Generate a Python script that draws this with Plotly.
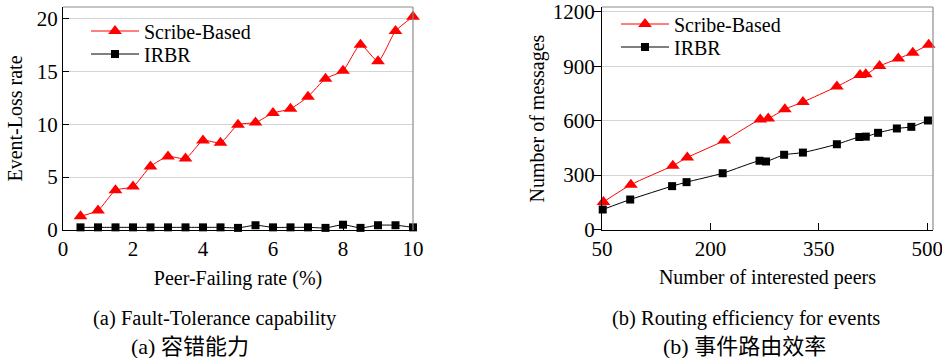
import plotly.graph_objects as go

# ---- Data: (a) Fault-Tolerance capability ----
fail_rate = [0.5, 1.0, 1.5, 2.0, 2.5, 3.0, 3.5, 4.0, 4.5, 5.0,
             5.5, 6.0, 6.5, 7.0, 7.5, 8.0, 8.5, 9.0, 9.5, 10.0]
scribe_loss = [1.3, 1.85, 3.75, 4.1, 6.0, 6.95, 6.75, 8.45, 8.25, 9.95,
               10.15, 11.05, 11.45, 12.6, 14.3, 15.05, 17.5, 15.95, 18.8, 20.15]
irbr_loss = [0.25, 0.25, 0.25, 0.25, 0.25, 0.25, 0.25, 0.25, 0.25, 0.2,
             0.45, 0.25, 0.25, 0.25, 0.2, 0.5, 0.2, 0.45, 0.45, 0.25]

# ---- Data: (b) Routing efficiency for events ----
peers_scribe = [52, 90, 148, 168, 219, 269, 280, 303, 328, 375, 407, 415, 434, 460, 480, 502]
msgs_scribe = [152, 247, 352, 397, 490, 607, 612, 663, 703, 788, 852, 856, 901, 943, 975, 1019]
peers_irbr = [51, 89, 147, 167, 217, 268, 277, 302, 328, 375, 406, 415, 432, 458, 478, 501]
msgs_irbr = [110, 165, 239, 261, 310, 379, 375, 412, 424, 470, 510, 512, 533, 557, 566, 601]

left_xticks = [0, 2, 4, 6, 8, 10]
left_yticks = [0, 5, 10, 15, 20]
right_xticks = [50, 200, 350, 500]
right_yticks = [0, 300, 600, 900, 1200]

series_names = ["Scribe-Based", "IRBR"]
captions_en = ["(a) Fault-Tolerance capability", "(b) Routing efficiency for events"]
captions_zh = ["(a) 容错能力", "(b) 事件路由效率"]

W, H = 942, 358
SERIF = "Liberation Serif"
FONT = dict(family=SERIF, size=20, color="black")
TICKFONT = dict(family=SERIF, size=21, color="black")

fig = go.Figure()
red = "#ff0000"

def add_pair(xs_a, ys_a, xs_b, ys_b, xa, ya, lg_a, lg_b):
    fig.add_trace(go.Scatter(
        x=xs_a, y=ys_a, name=series_names[0], mode="lines+markers",
        line=dict(color=red, width=1, shape="spline", smoothing=0.6),
        marker=dict(symbol="triangle-up", size=12, color=red),
        xaxis=xa, yaxis=ya, legend=lg_a, cliponaxis=False))
    fig.add_trace(go.Scatter(
        x=xs_b, y=ys_b, name=series_names[1], mode="lines+markers",
        line=dict(color="black", width=1, shape="spline", smoothing=0.6),
        marker=dict(symbol="square", size=8, color="black"),
        xaxis=xa, yaxis=ya, legend=lg_b, cliponaxis=False))

add_pair(fail_rate, scribe_loss, fail_rate, irbr_loss, "x", "y", "legend", "legend2")
add_pair(peers_scribe, msgs_scribe, peers_irbr, msgs_irbr, "x2", "y2", "legend3", "legend4")

L_x0, L_x1 = 63, 413
R_x0, R_x1 = 602, 933
Y_top, Y_bot = 7, 230

def dx(p):
    return p / W

def dy(p):
    return 1 - p / H

axis_common = dict(showline=True, linecolor="black", linewidth=1, zeroline=False,
                   tickfont=TICKFONT, title_font=FONT, tickcolor="black",
                   automargin=False, ticklabeloverflow="allow")

def legend_at(px, py):
    return dict(x=dx(px), y=dy(py), xanchor="left", yanchor="middle",
                bgcolor="rgba(0,0,0,0)", borderwidth=0, font=FONT,
                itemwidth=48, tracegroupgap=0)

fig.update_layout(
    width=W, height=H, margin=dict(l=0, r=0, t=0, b=0, autoexpand=False),
    paper_bgcolor="white", plot_bgcolor="white",
    font=FONT,
    xaxis=dict(domain=[dx(L_x0), dx(L_x1)], range=[0, 10], anchor="y",
               tickvals=left_xticks, ticks="inside", ticklen=6, showgrid=False,
               title=dict(text="Peer-Failing rate (%)", standoff=10),
               ticklabelstandoff=0, **axis_common),
    yaxis=dict(domain=[dy(Y_bot), dy(Y_top)], range=[0, 21.07], anchor="x",
               tickvals=left_yticks, ticks="inside", ticklen=6,
               showgrid=True, gridcolor="#d4d4d4", gridwidth=1,
               title=dict(text="Event-Loss rate", standoff=8), **axis_common),
    xaxis2=dict(domain=[dx(R_x0), dx(R_x1)], range=[50, 508], anchor="y2",
                tickvals=right_xticks, ticks="inside", ticklen=7, showgrid=False,
                title=dict(text="Number of interested peers", standoff=9),
                ticklabelstandoff=0, **axis_common),
    yaxis2=dict(domain=[dy(Y_bot), dy(Y_top)], range=[-3, 1227], anchor="x2",
                tickvals=right_yticks, ticks="outside", ticklen=8,
                showgrid=True, gridcolor="#d4d4d4", gridwidth=1,
                ticklabelstandoff=-6,
                title=dict(text="Number of messages", standoff=2), **axis_common),
    legend=legend_at(86, 31),
    legend2=legend_at(86, 54),
    legend3=legend_at(616, 24),
    legend4=legend_at(616, 47),
    showlegend=True,
)

for xr, yr in (("x domain", "y domain"), ("x2 domain", "y2 domain")):
    fig.add_shape(type="line", xref=xr, yref=yr, x0=0, x1=1, y0=1, y1=1,
                  line=dict(color="#8c8c8c", width=1.2))
    fig.add_shape(type="line", xref=xr, yref=yr, x0=1, x1=1, y0=0, y1=1,
                  line=dict(color="#8c8c8c", width=1.2))

cap_font_en = dict(family=SERIF, size=20.5, color="black")
cap_font_zh = dict(family="Liberation Serif, Noto Sans CJK SC", size=22, color="black")
for cx, en, cx2, zh in ((215, captions_en[0], 190, captions_zh[0]),
                        (746, captions_en[1], 744, captions_zh[1])):
    fig.add_annotation(x=dx(cx), y=dy(318), xref="paper", yref="paper", text=en,
                       showarrow=False, font=cap_font_en, xanchor="center", yanchor="middle")
    fig.add_annotation(x=dx(cx2), y=dy(346), xref="paper", yref="paper", text=zh,
                       showarrow=False, font=cap_font_zh, xanchor="center", yanchor="middle")

fig.write_html("out.html", config={"displayModeBar": False},
               post_script="document.body.style.margin='0';document.body.style.padding='0';")
